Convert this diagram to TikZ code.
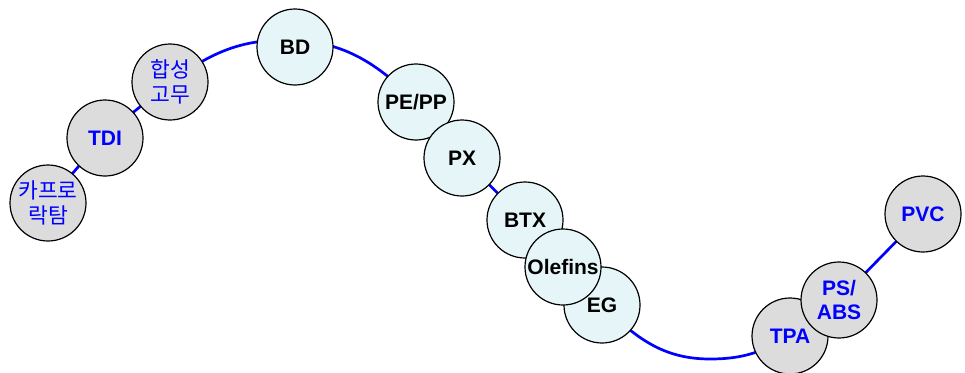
\documentclass[tikz,border=0pt]{standalone}
\usepackage{fontspec}
\setmainfont{Liberation Sans}
\newfontfamily\krfont{Noto Sans CJK KR}
\definecolor{ncyan}{RGB}{230,246,248}
\definecolor{ngray}{RGB}{220,220,220}
\definecolor{nblue}{RGB}{0,0,255}
\pgfdeclarelayer{background}
\pgfsetlayers{background,main}
\begin{document}
\begin{tikzpicture}[x=1pt,y=1pt,
  chem/.style={circle, draw=black, line width=1.2pt, minimum size=76pt, inner sep=0pt,
    font=\fontsize{21}{24}\selectfont\bfseries, align=center},
  base/.style={chem, fill=ncyan, text=black},
  deriv/.style={chem, fill=ngray, text=nblue},
  krnode/.style={deriv, font=\fontsize{21.5}{24.5}\krfont},
  curve/.style={draw=nblue, line width=2.7pt}]
\useasboundingbox (0,0) rectangle (965,-372);

\node[krnode] (kapro) at (48,-203) {카프로\\락탐};
\node[deriv] (tdi) at (105,-138) {TDI};
\node[krnode] (hab) at (170,-82) {합성\\고무};
\node[base] (bd) at (295,-47) {BD};
\node[base] (pepp) at (416,-102) {PE/PP};
\node[base] (px) at (462,-158) {PX};
\node[base] (eg) at (602,-305) {EG};
\node[base] (btx) at (525,-220) {BTX};
\node[base] (olef) at (563,-267) {Olefins};
\node[deriv] (tpa) at (790,-336) {TPA};
\node[deriv] (psabs) at (839,-300) {PS/\\ABS};
\node[deriv] (pvc) at (923,-214) {PVC};

\coordinate (peak) at (285,-40);
\coordinate (trough) at (710,-359);

\begin{pgfonlayer}{background}
\draw[curve] (kapro.center) to[out=50,in=225] (tdi.center)
  to[out=45,in=221] (hab.center)
  to[out=35,in=180] (peak)
  to[out=0,in=135] (pepp.center)
  -- (px.center) -- (btx.center) -- (olef.center) -- (eg.center)
  to[out=-44,in=180] (trough)
  to[out=0,in=210] (tpa.center)
  to[out=30,in=225] (psabs.center)
  -- (pvc.center);
\end{pgfonlayer}
\end{tikzpicture}
\end{document}
